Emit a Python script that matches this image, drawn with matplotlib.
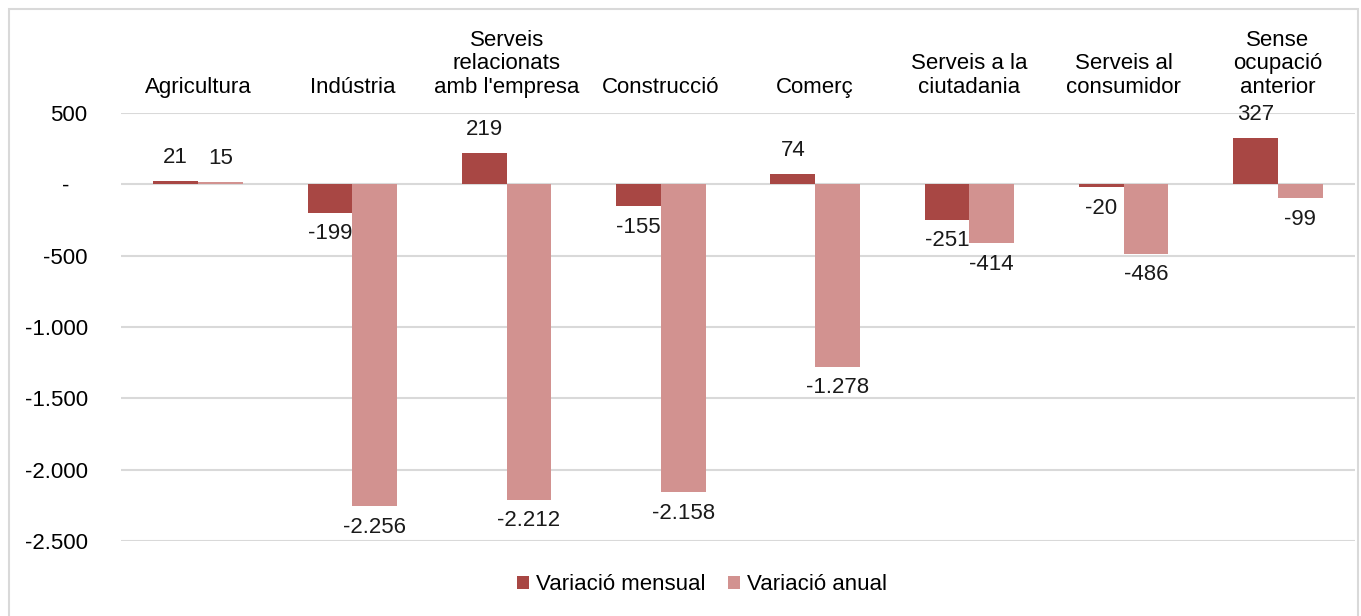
import matplotlib.pyplot as plt
import numpy as np
from matplotlib.patches import Rectangle

plt.rcParams['font.family'] = ['Liberation Sans', 'DejaVu Sans']

# data
categories = ['Agricultura', 'Indústria', 'Serveis\nrelacionats\namb l\'empresa', 'Construcció',
	'Comerç', 'Serveis a la\nciutadania', 'Serveis al\nconsumidor', 'Sense\nocupació\nanterior']
mensual = [21, -199, 219, -155, 74, -251, -20, 327]
anual = [15, -2256, -2212, -2158, -1278, -414, -486, -99]
yticks = [500, 0, -500, -1000, -1500, -2000, -2500]

c_mens = '#A84744'
c_anual = '#D29290'
grid_c = '#D9D9D9'


def fmt(v):
	# catalan style thousands separator
	if v == 0:
		return '-   '
	s = '{:,}'.format(int(v)).replace(',', '.')
	return s


fig = plt.figure(figsize=(13.61, 6.16), dpi=100)
ax = fig.add_axes([121/1361, 1-541/616, (1355-121)/1361, (541-113)/616])

x = np.arange(len(categories))
w = 0.29
b1 = ax.bar(x - w/2, mensual, w, color=c_mens, zorder=2, label='Variació mensual')
b2 = ax.bar(x + w/2, anual, w, color=c_anual, zorder=2, label='Variació anual')

# data labels
for bars, vals in [(b1, mensual), (b2, anual)]:
	for r, v in zip(bars, vals):
		cx = r.get_x() + r.get_width()/2
		off = 17 if v >= 0 else -15
		ax.annotate(fmt(v), (cx, v), xytext=(0, off), textcoords='offset points',
			ha='center', va='center', fontsize=16, color='#1a1a1a', annotation_clip=False)

ax.set_xlim(-0.5, len(categories) - 0.5)
ax.set_ylim(-2500, 500)
ax.set_yticks(yticks)
ax.set_yticklabels([fmt(v) for v in yticks])
for t in yticks:
	ax.axhline(t, color=grid_c, lw=1.5, zorder=1)

ax.xaxis.tick_top()
ax.set_xticks(x)
ax.set_xticklabels(categories, fontsize=16, linespacing=1.15)
ax.tick_params(axis='x', length=0, pad=11)
ax.tick_params(axis='y', length=0, pad=24, labelsize=16)
for s in ax.spines.values():
	s.set_visible(False)

leg = ax.legend(loc='center', bbox_to_anchor=(702/1361, 1-585/616), bbox_transform=fig.transFigure,
	ncol=2, frameon=False, fontsize=16, handlelength=0.55, handleheight=0.55, handletextpad=0.3,
	columnspacing=1.0)

# chart area border
fig.patches.append(Rectangle((9/1361, -0.01), (1358-9)/1361, 1-9/616+0.01, transform=fig.transFigure,
	fill=False, edgecolor=grid_c, lw=1.5))

fig.savefig('out.png', dpi=100)
